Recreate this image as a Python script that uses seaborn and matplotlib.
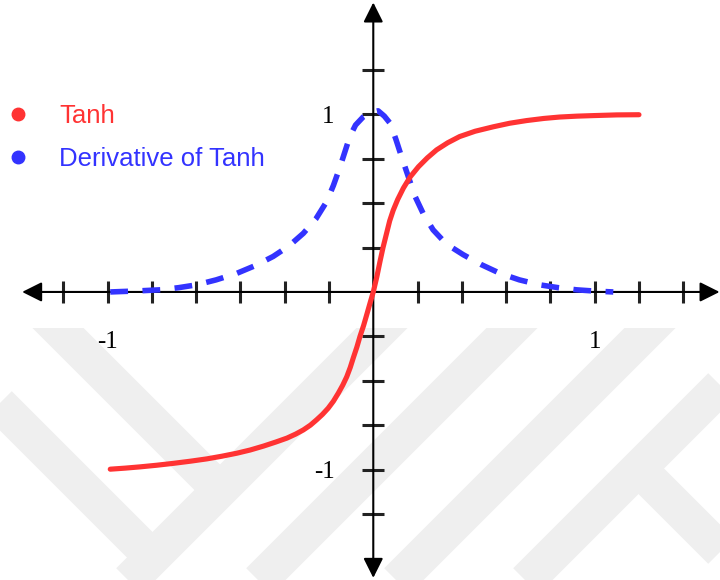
import pandas as pd
import matplotlib
matplotlib.use("Agg")
import matplotlib.pyplot as plt
from matplotlib.lines import Line2D
from matplotlib.patches import Rectangle
import seaborn as sns

# -------------------------------------------------------
# Data read off the reference (x in tick steps, y in real units)
# -------------------------------------------------------
tanh_x = [-5.94, -5.6, -5.27, -4.9, -4.51, -4.13, -3.76, -3.42, -3.08, -2.78,
          -2.48, -2.2, -1.95, -1.75, -1.58, -1.42, -1.28, -1.15, -1.02, -0.90,
          -0.79, -0.69, -0.60, -0.52, -0.45, -0.37, -0.30, -0.22, -0.15, -0.07,
          0.0, 0.08, 0.15, 0.22, 0.30, 0.37, 0.45, 0.55, 0.68, 0.84,
          1.02, 1.22, 1.43, 1.68, 1.95, 2.30, 2.71, 3.08, 3.46, 3.85,
          4.21, 4.60, 4.96, 5.5, 6.0]
tanh_y = [-0.998, -0.992, -0.985, -0.976, -0.965, -0.953, -0.94, -0.925, -0.908, -0.89,
          -0.868, -0.845, -0.823, -0.80, -0.777, -0.75, -0.72, -0.69, -0.655, -0.615,
          -0.57, -0.525, -0.478, -0.425, -0.37, -0.31, -0.25, -0.19, -0.13, -0.06,
          0.0, 0.085, 0.17, 0.25, 0.33, 0.40, 0.46, 0.52, 0.585, 0.65,
          0.705, 0.755, 0.80, 0.84, 0.875, 0.905, 0.93, 0.95, 0.965, 0.977,
          0.985, 0.99, 0.993, 0.997, 0.998]

deriv_x = [-5.94, -5.4, -4.81, -4.4, -3.99, -3.55, -3.08, -2.65, -2.26, -1.9,
           -1.58, -1.3, -1.05, -0.9, -0.75, -0.64, -0.53, -0.40, -0.23, -0.07,
           0.11, 0.25, 0.38, 0.51, 0.64, 0.79, 0.94, 1.13, 1.35, 1.65,
           2.03, 2.43, 2.86, 3.3, 3.76, 4.18, 4.59, 5.0, 5.42]
deriv_y = [0.0, 0.005, 0.012, 0.024, 0.04, 0.068, 0.105, 0.15, 0.20, 0.26,
           0.33, 0.41, 0.51, 0.60, 0.705, 0.79, 0.875, 0.94, 0.985, 1.01,
           1.02, 0.99, 0.95, 0.86, 0.76, 0.65, 0.54, 0.44, 0.35, 0.27,
           0.21, 0.155, 0.105, 0.068, 0.04, 0.024, 0.012, 0.005, 0.0]

series_names = ["Tanh", "Derivative of Tanh"]
x_ticks = [-7, -6, -5, -4, -3, -2, -1, 1, 2, 3, 4, 5, 6, 7]
x_tick_labels = {-6: "-1", 5: "1"}
y_ticks = [-1.25, -1.0, -0.75, -0.5, -0.25, 0.25, 0.5, 0.75, 1.0, 1.25]
y_tick_labels = {-1.0: "-1", 1.0: "1"}

RED = "#ff3333"
BLUE = "#3333ff"

tanh_df = pd.DataFrame({"x": tanh_x, "y": tanh_y})
deriv_df = pd.DataFrame({"x": deriv_x, "y": deriv_y})

sns.set_theme(style="white")

fig = plt.figure(figsize=(7.2, 5.8), dpi=100)

# -------------------------------------------------------
# faint watermark stripes in the background (pixel coords)
# -------------------------------------------------------
bg = fig.add_axes([0, 0, 1, 1], zorder=0)
bg.set_xlim(0, 720)
bg.set_ylim(580, 0)
bg.axis("off")
clip = Rectangle((0, 328), 720, 260, transform=bg.transData)
stripes = [((30, 300), (220, 490)), ((-20, 385), (152, 557)),
           ((410, 300), (110, 600)), ((540, 300), (240, 600)),
           ((678, 300), (378, 600)), ((760, 347), (507, 600)),
           ((638, 468), (770, 600))]
for (x0, y0), (x1, y1) in stripes:
    ln, = bg.plot([x0, x1], [y0, y1], color="#efefef", lw=26,
                  solid_capstyle="butt")
    ln.set_clip_path(clip)

# -------------------------------------------------------
# main axes, centred at origin
# -------------------------------------------------------
ax = fig.add_axes([0, 0, 1, 1], zorder=1)
ax.set_facecolor("none")
ax.set_xlim(-8.43, 7.83)
ax.set_ylim(-1.622, 1.644)

sns.lineplot(data=tanh_df, x="x", y="y", ax=ax, color=RED, lw=3.7,
             sort=False, legend=False, zorder=4, solid_joinstyle="round")
sns.lineplot(data=deriv_df, x="x", y="y", ax=ax, color=BLUE, lw=4.0,
             sort=False, legend=False, zorder=3, linestyle=(0, (3.2, 2.6)))

for s in ax.spines.values():
    s.set_visible(False)
ax.spines["left"].set_position("zero")
ax.spines["bottom"].set_position("zero")

# axis lines with arrowheads
arrow = dict(arrowstyle="<|-|>,head_length=0.8,head_width=0.4", color="black",
             lw=1.5, shrinkA=0, shrinkB=0, mutation_scale=15)
ax.annotate("", xy=(7.82, 0), xytext=(-7.93, 0), arrowprops=arrow, zorder=2)
ax.annotate("", xy=(0, 1.63), xytext=(0, -1.61), arrowprops=arrow, zorder=2)

ax.set_xticks(x_ticks)
ax.set_xticklabels([x_tick_labels.get(t, "") for t in x_ticks])
ax.set_yticks(y_ticks)
ax.set_yticklabels([y_tick_labels.get(t, "") for t in y_ticks])
ax.tick_params(axis="both", direction="inout", length=16, width=2.2,
               color="#222222", labelsize=18, labelcolor="black")
ax.tick_params(axis="x", pad=20, bottom=True)
ax.tick_params(axis="y", pad=20, left=True)
for lab in ax.get_xticklabels() + ax.get_yticklabels():
    lab.set_family(["Liberation Serif", "DejaVu Serif"])
ax.set_xlabel("")
ax.set_ylabel("")

# legend with dots
handles = [Line2D([], [], marker="o", ls="", color=RED, markersize=9),
           Line2D([], [], marker="o", ls="", color=BLUE, markersize=9)]
leg = ax.legend(handles, series_names, loc="upper left",
                bbox_to_anchor=(5.5 / 720, 1 - 104 / 580),
                bbox_transform=fig.transFigure, frameon=False,
                borderaxespad=0, borderpad=0, handlelength=1.0,
                handletextpad=1.1, labelspacing=0.74,
                labelcolor=[RED, BLUE],
                prop={"family": ["Liberation Sans", "DejaVu Sans"], "size": 18.5})

fig.savefig("out.png", dpi=100)
